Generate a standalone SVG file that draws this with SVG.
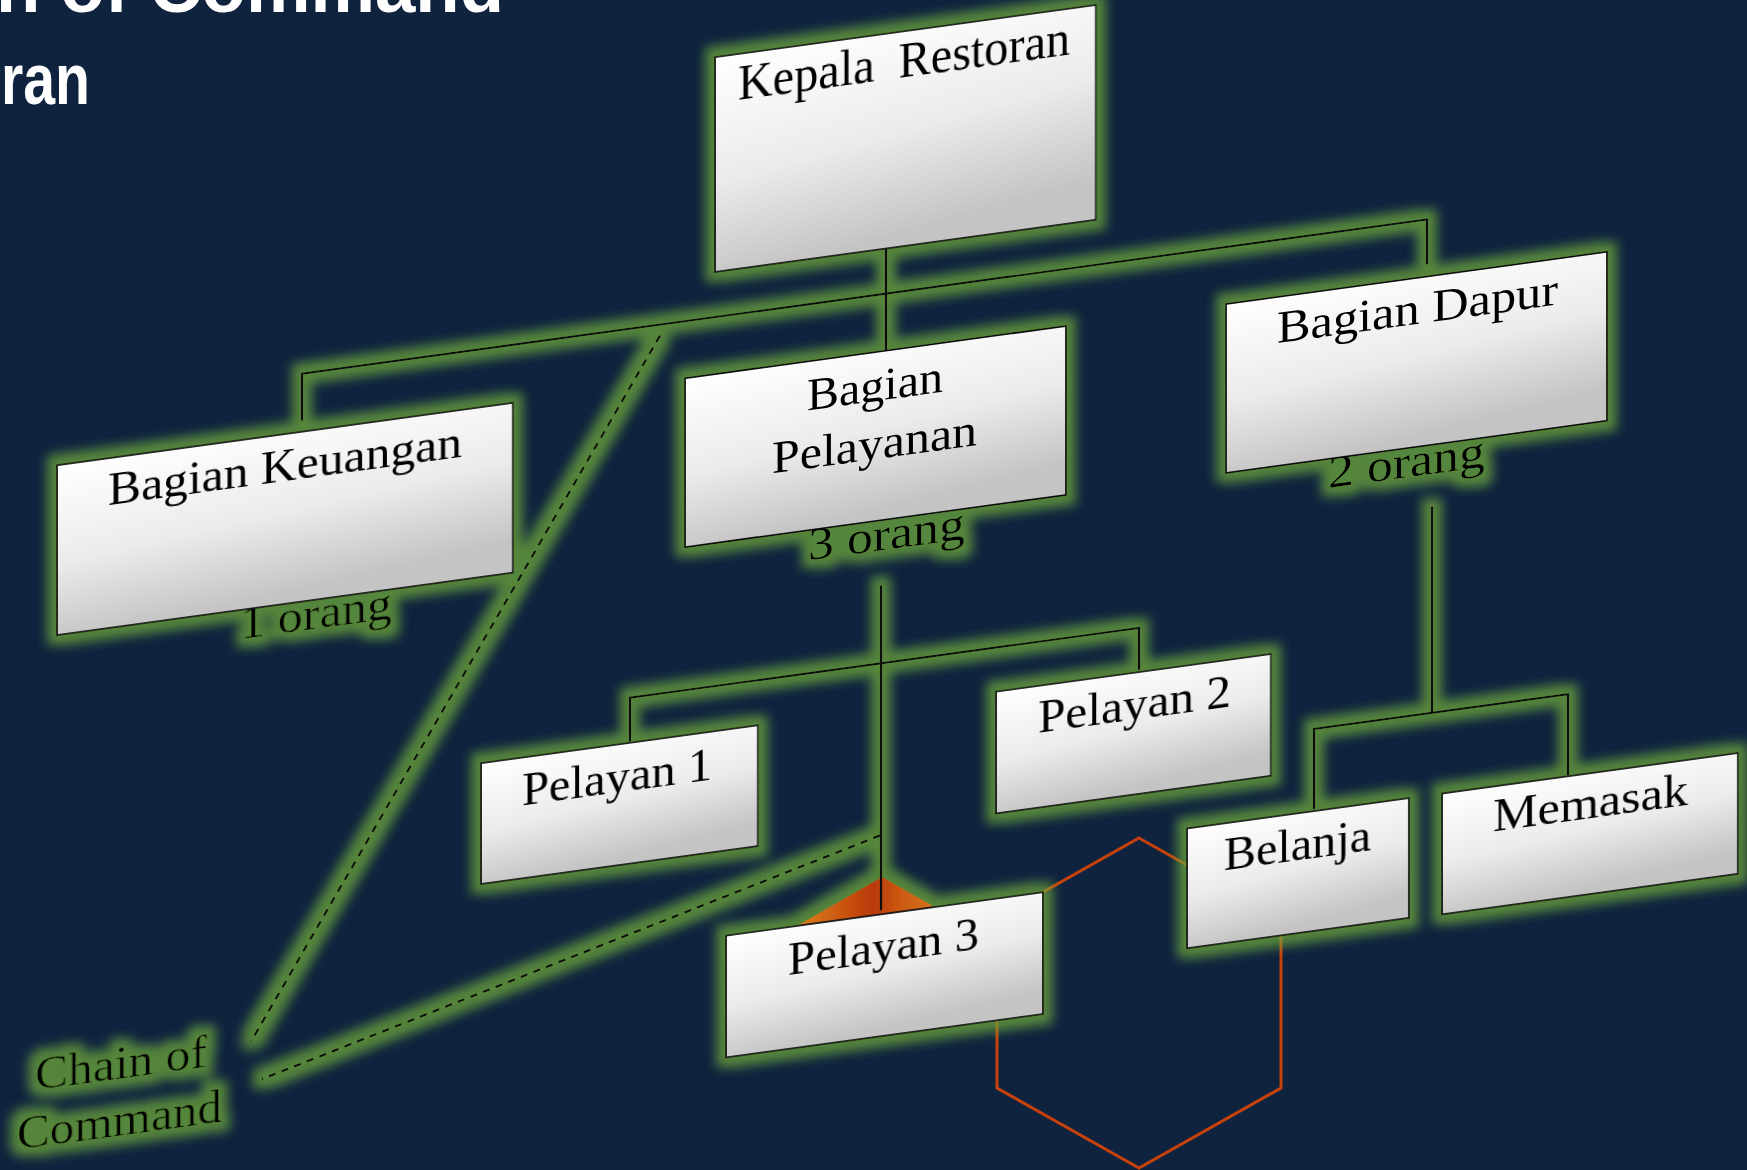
<svg xmlns="http://www.w3.org/2000/svg" width="1747" height="1170" viewBox="0 0 1747 1170">
<defs>
  <linearGradient id="boxfill" x1="0" y1="0" x2="0.25" y2="1">
    <stop offset="0" stop-color="#ffffff"/>
    <stop offset="0.55" stop-color="#ebebeb"/>
    <stop offset="1" stop-color="#c4c4c4"/>
  </linearGradient>
  <linearGradient id="trifill" x1="0" y1="0" x2="1" y2="0">
    <stop offset="0" stop-color="#dc8a1e"/>
    <stop offset="0.3" stop-color="#c9520f"/>
    <stop offset="0.45" stop-color="#b9390a"/>
    <stop offset="0.6" stop-color="#cc5a12"/>
    <stop offset="1" stop-color="#dc9020"/>
  </linearGradient>
  <filter id="glow" filterUnits="userSpaceOnUse" x="-60" y="-60" width="1870" height="1290">
    <feMorphology in="SourceAlpha" operator="dilate" radius="9" result="d"/>
    <feGaussianBlur in="d" stdDeviation="5.5" result="b"/>
    <feFlood flood-color="#6fa83c" flood-opacity="0.74"/>
    <feComposite in2="b" operator="in" result="g"/>
    <feMerge><feMergeNode in="g"/><feMergeNode in="SourceGraphic"/></feMerge>
  </filter>
</defs>
<style>
  .box{fill:url(#boxfill);stroke:#111;stroke-width:1.8}
  .lbl{font-family:"Liberation Serif","Times New Roman",serif;fill:#000;font-size:46px}
  .ln{stroke:#111;stroke-width:2.2;fill:none}
  .dash{stroke:#111;stroke-width:2.4;stroke-dasharray:7 6;fill:none}
  .title{font-family:"Liberation Sans",Arial,sans-serif;font-weight:700;fill:#ffffff;font-size:72px}
</style>
<rect width="1747" height="1170" fill="#0f233e"/>

<g id="title">
  <text class="title" x="-4" y="12" textLength="508" lengthAdjust="spacingAndGlyphs">n of Command</text>
  <text class="title" x="1" y="104" textLength="89" lengthAdjust="spacingAndGlyphs">ran</text>
</g>

<g id="hexagon">
  <polygon points="1139,838 1281,918 1281,1088 1139,1168 997,1088 997,918" fill="none" stroke="#c6420c" stroke-width="3"/>
</g>

<g id="diagram" filter="url(#glow)">
  <g id="roof">
    <polygon points="882,877 790,930 975,930" fill="url(#trifill)"/>
  </g>
  <g id="connectors" transform="matrix(1 -0.137 0 1 0 0)">
    <path class="ln" d="M302 462 V415 H1427 V460"/>
    <path class="ln" d="M886 370 V472"/>
    <path class="ln" d="M881 706 V1031"/>
    <path class="ln" d="M630 828 V784 H1139 V826"/>
    <path class="ln" d="M1432 703 V909"/>
    <path class="ln" d="M1314 989 V909 H1568 V990"/>
    <path class="dash" d="M660 426 L251 1076"/>
    <path class="dash" d="M880 956 L262 1115"/>
  </g>
  <g id="node-kepala" transform="matrix(1 -0.137 0 1 0 0)">
    <rect class="box" x="715" y="155" width="381" height="215"/>
    <text class="lbl" x="738" y="201" style="font-size:50px;white-space:pre" textLength="332" lengthAdjust="spacingAndGlyphs">Kepala  Restoran</text>
  </g>
  <g id="node-keuangan" transform="matrix(1 -0.137 0 1 0 0)">
    <text class="lbl" x="240" y="672" textLength="152" lengthAdjust="spacingAndGlyphs">1 orang</text>
    <rect class="box" x="57" y="473" width="456" height="170"/>
    <text class="lbl" x="108" y="520" textLength="354" lengthAdjust="spacingAndGlyphs">Bagian Keuangan</text>
  </g>
  <g id="node-pelayanan" transform="matrix(1 -0.137 0 1 0 0)">
    <text class="lbl" x="808" y="671" textLength="157" lengthAdjust="spacingAndGlyphs">3 orang</text>
    <rect class="box" x="685" y="472" width="381" height="169"/>
    <text class="lbl" x="807" y="521" textLength="136" lengthAdjust="spacingAndGlyphs">Bagian</text>
    <text class="lbl" x="772" y="579" textLength="205" lengthAdjust="spacingAndGlyphs">Pelayanan</text>
  </g>
  <g id="node-dapur" transform="matrix(1 -0.137 0 1 0 0)">
    <text class="lbl" x="1328" y="670" textLength="157" lengthAdjust="spacingAndGlyphs">2 orang</text>
    <rect class="box" x="1226" y="472" width="381" height="169"/>
    <text class="lbl" x="1277" y="518" textLength="281" lengthAdjust="spacingAndGlyphs">Bagian Dapur</text>
  </g>
  <g id="node-pelayan1" transform="matrix(1 -0.137 0 1 0 0)">
    <rect class="box" x="481" y="829" width="277" height="121"/>
    <text class="lbl" x="522" y="877" textLength="190" lengthAdjust="spacingAndGlyphs">Pelayan 1</text>
  </g>
  <g id="node-pelayan2" transform="matrix(1 -0.137 0 1 0 0)">
    <rect class="box" x="996" y="828" width="275" height="122"/>
    <text class="lbl" x="1038" y="875" textLength="193" lengthAdjust="spacingAndGlyphs">Pelayan 2</text>
  </g>
  <g id="node-pelayan3" transform="matrix(1 -0.137 0 1 0 0)">
    <rect class="box" x="726" y="1035" width="317" height="122"/>
    <text class="lbl" x="788" y="1083" textLength="191" lengthAdjust="spacingAndGlyphs">Pelayan 3</text>
  </g>
  <g id="node-belanja" transform="matrix(1 -0.137 0 1 0 0)">
    <rect class="box" x="1187" y="991" width="222" height="120"/>
    <text class="lbl" x="1224" y="1038" textLength="147" lengthAdjust="spacingAndGlyphs">Belanja</text>
  </g>
  <g id="node-memasak" transform="matrix(1 -0.137 0 1 0 0)">
    <rect class="box" x="1442" y="991" width="296" height="121"/>
    <text class="lbl" x="1493" y="1036" textLength="195" lengthAdjust="spacingAndGlyphs">Memasak</text>
  </g>
  <g id="node-chain" transform="matrix(1 -0.137 0 1 0 0)">
    <text class="lbl" x="35" y="1095" textLength="172" lengthAdjust="spacingAndGlyphs">Chain of</text>
    <text class="lbl" x="17" y="1152" textLength="205" lengthAdjust="spacingAndGlyphs">Command</text>
  </g>
</g>
</svg>
